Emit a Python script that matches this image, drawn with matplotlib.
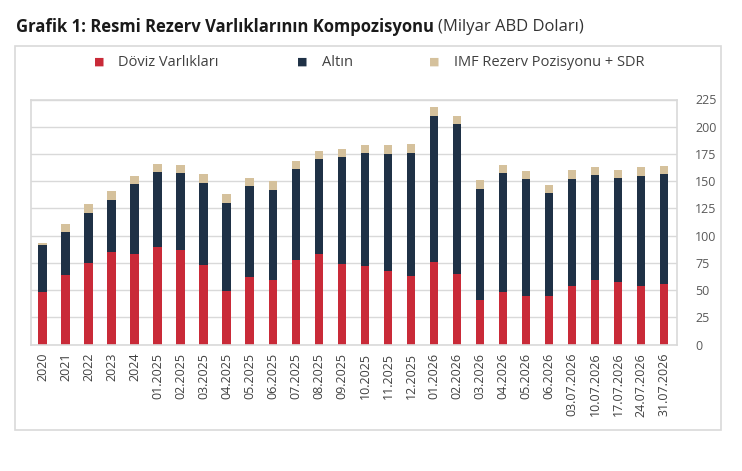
import numpy as np
import matplotlib.pyplot as plt
from matplotlib.patches import Rectangle

plt.rcParams['font.family'] = ['Open Sans', 'DejaVu Sans']

labels = ['2020', '2021', '2022', '2023', '2024',
          '01.2025', '02.2025', '03.2025', '04.2025', '05.2025', '06.2025',
          '07.2025', '08.2025', '09.2025', '10.2025', '11.2025', '12.2025',
          '01.2026', '02.2026', '03.2026', '04.2026', '05.2026', '06.2026',
          '03.07.2026', '10.07.2026', '17.07.2026', '24.07.2026', '31.07.2026']

# stack tops
doviz = [48.3, 64.2, 75.2, 85.3, 83.2,
         89.3, 87.2, 73.4, 48.9, 62.1, 59.3,
         77.4, 83.2, 74.3, 72.2, 67.3, 63.0,
         76.1, 65.1, 41.0, 48.3, 45.0, 45.0,
         54.1, 59.3, 57.2, 54.1, 56.0]
altin_top = [91.1, 103.4, 120.5, 132.7, 147.4,
             158.7, 157.8, 148.6, 130.3, 145.6, 141.6,
             161.5, 170.6, 171.9, 175.8, 174.9, 175.8,
             210.1, 202.1, 142.5, 157.8, 151.7, 139.4,
             151.7, 155.7, 152.6, 154.7, 156.6]
imf_top = [93.6, 110.4, 128.7, 140.7, 154.7,
           165.7, 164.8, 156.9, 137.9, 152.6, 150.2,
           168.8, 177.7, 179.8, 182.9, 182.9, 183.8,
           218.0, 210.1, 150.8, 164.8, 159.0, 146.8,
           159.9, 162.7, 159.9, 162.7, 163.6]

doviz = np.array(doviz)
altin = np.array(altin_top) - doviz
imf = np.array(imf_top) - np.array(altin_top)

red = '#C92A38'
navy = '#1F3146'
tan = '#D5C19C'
grid_c = '#D9D9D9'
txt_c = '#404040'

W, H = 742, 471
fig = plt.figure(figsize=(W / 100, H / 100), dpi=100)

# outer frame
fig.patches.append(Rectangle((15 / W, 1 - 430 / H), 706 / W, 384 / H,
                             transform=fig.transFigure, fill=False,
                             edgecolor=grid_c, linewidth=1.2))

ax = fig.add_axes([31 / W, 1 - 344.5 / H, 646 / W, 245 / H])
x = np.arange(len(labels))
w = 0.38
ax.bar(x, doviz, w, color=red, label='Döviz Varlıkları')
ax.bar(x, altin, w, bottom=doviz, color=navy, label='Altın')
ax.bar(x, imf, w, bottom=doviz + altin, color=tan, label='IMF Rezerv Pozisyonu + SDR')

ax.set_xlim(-0.51, len(labels) - 0.44)
ax.set_ylim(0, 225)
ax.set_yticks(np.arange(0, 226, 25))
ax.yaxis.tick_right()
ax.tick_params(axis='y', length=0, pad=13, labelsize=9, labelcolor='#595959')
ax.set_xticks(x)
ax.set_xticklabels(labels, rotation=90, fontsize=9, color=txt_c)
ax.tick_params(axis='x', length=0, pad=6)
ax.grid(axis='y', color=grid_c, linewidth=1)
ax.set_axisbelow(True)
for s in ax.spines.values():
    s.set_color(grid_c)
    s.set_linewidth(1.2)

# legend
leg_y = 1 - 62 / H
items = [(99, 118, red, 'Döviz Varlıkları'),
         (302, 322, navy, 'Altın'),
         (434, 454, tan, 'IMF Rezerv Pozisyonu + SDR')]
for mx, tx, c, t in items:
    fig.text(mx / W, leg_y, '■', color=c, fontsize=8, ha='center', va='center',
             family='DejaVu Sans')
    fig.text(tx / W, leg_y, t, color=txt_c, fontsize=10.5, ha='left', va='center')

# title
t1 = fig.text(16 / W, 1 - 27 / H, 'Grafik 1: Resmi Rezerv Varlıklarının Kompozisyonu',
              fontsize=12, fontweight='bold', color='#1a1a1a', va='center', ha='left')
fig.canvas.draw()
bb = t1.get_window_extent()
fig.text((bb.x1 + 4) / W, 1 - 27 / H, '(Milyar ABD Doları)', fontsize=12,
         color='#333333', va='center', ha='left')

fig.savefig('out.png', dpi=100)
